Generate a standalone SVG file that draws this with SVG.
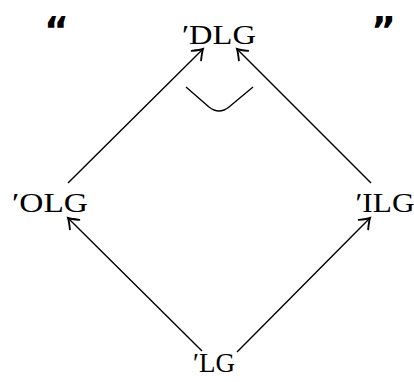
<svg xmlns="http://www.w3.org/2000/svg" width="414" height="382" viewBox="0 0 414 382">
<style>
.lbl{font-family:"Liberation Serif","DejaVu Serif",serif;font-size:28px;fill:#000}
.q{font-family:"DejaVu Sans","Liberation Sans",sans-serif;font-size:38px;font-weight:bold;fill:#000}
.e{stroke:#000;stroke-width:1.4;fill:none;marker-end:url(#ah)}
</style>
<defs>
<marker id="ah" markerUnits="userSpaceOnUse" markerWidth="16" markerHeight="16" viewBox="-10 -6 12 12" refX="0" refY="0" orient="auto">
<path d="M-7,-5 Q-2,-1 0,0 Q-2,1 -7,5" fill="none" stroke="#000" stroke-width="1.4" stroke-linecap="round"/>
</marker>
</defs>
<text class="q" x="44" y="43">“</text>
<text class="q" x="371" y="43">”</text>
<g id="DLG"><text class="lbl" x="219" y="44" text-anchor="middle" textLength="74" lengthAdjust="spacingAndGlyphs">′DLG</text></g>
<g id="OLG"><text class="lbl" x="50" y="212" text-anchor="middle" textLength="76" lengthAdjust="spacingAndGlyphs">′OLG</text></g>
<g id="ILG"><text class="lbl" x="385" y="212" text-anchor="middle" textLength="59" lengthAdjust="spacingAndGlyphs">′ILG</text></g>
<g id="LG"><text class="lbl" x="214" y="372" text-anchor="middle" textLength="42" lengthAdjust="spacingAndGlyphs">′LG</text></g>
<g id="connectors">
<line class="e" x1="68" y1="183" x2="203" y2="49"/>
<line class="e" x1="371" y1="183" x2="237" y2="49"/>
<line class="e" x1="202" y1="351" x2="68" y2="218"/>
<line class="e" x1="237" y1="352" x2="370" y2="218"/>
</g>
<path d="M186,87 L209,107 Q219,115 229,107 L253,87" fill="none" stroke="#000" stroke-width="1.4"/>
</svg>
